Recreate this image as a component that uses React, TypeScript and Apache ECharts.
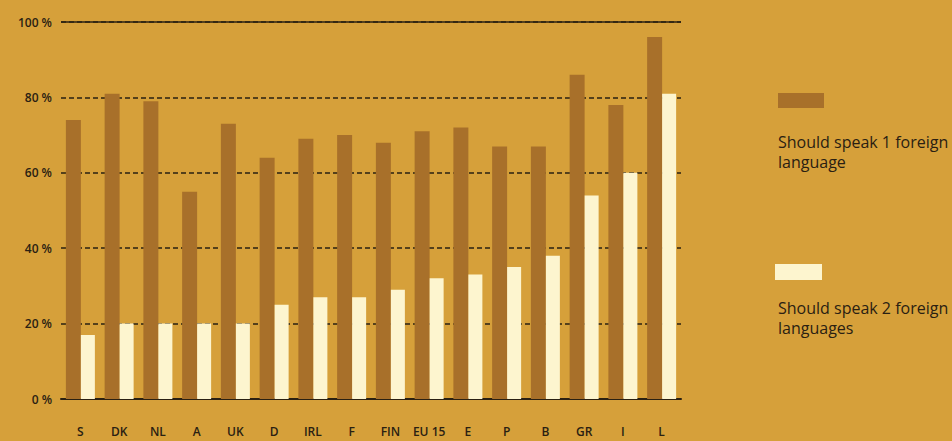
import React, { useEffect, useRef } from "react";
import * as echarts from "echarts";

const categories = ["S", "DK", "NL", "A", "UK", "D", "IRL", "F", "FIN", "EU 15", "E", "P", "B", "GR", "I", "L"];
const oneForeign = [74, 81, 79, 55, 73, 64, 69, 70, 68, 71, 72, 67, 67, 86, 78, 96];
const twoForeign = [17, 20, 20, 20, 20, 25, 27, 27, 29, 32, 33, 35, 38, 54, 60, 81];
const seriesNames = ["Should speak 1 foreign\nlanguage", "Should speak 2 foreign\nlanguages"];
const yTicks = [0, 20, 40, 60, 80, 100];

const BG = "#d6a03a";
const DARK = "#a8702a";
const LIGHT = "#fdf5cf";
const INK = "#2a2012";
const FONT = "'Open Sans', 'Noto Sans', sans-serif";

export default function App() {
  const ref = useRef<HTMLDivElement>(null);
  useEffect(() => {
    if (!ref.current) return;
    const chart = echarts.init(ref.current, undefined, { renderer: "svg" });
    chart.setOption({
      animation: false,
      backgroundColor: BG,
      grid: { left: 61, right: 271, top: 22, bottom: 42, containLabel: false },
      xAxis: {
        type: "category",
        data: categories,
        axisLine: { show: true, lineStyle: { color: INK, width: 2 } },
        axisTick: { show: false },
        axisLabel: { interval: 0, color: INK, fontSize: 12, fontFamily: FONT, fontWeight: 600, margin: 26 },
      },
      yAxis: {
        type: "value",
        min: 0,
        max: 100,
        interval: 20,
        axisLine: { show: false },
        axisTick: { show: false },
        axisLabel: {
          color: INK,
          fontSize: 12,
          fontFamily: FONT,
          fontWeight: 600,
          margin: 9,
          formatter: (v: number) => (yTicks.includes(v) ? `${v} %` : ""),
        },
        splitLine: { show: true, lineStyle: { color: INK, width: 1.5, type: [5, 3] } },
      },
      series: [
        {
          name: seriesNames[0],
          type: "bar",
          data: oneForeign,
          barWidth: 15,
          barGap: "0%",
          itemStyle: { color: DARK },
          markLine: {
            silent: true,
            symbol: "none",
            label: { show: false },
            lineStyle: { color: INK, width: 1.5, type: "solid" },
            data: [{ yAxis: 100 }],
          },
        },
        {
          name: seriesNames[1],
          type: "bar",
          data: twoForeign,
          barWidth: 14,
          barGap: "0%",
          itemStyle: { color: LIGHT },
        },
      ],
      graphic: [
        { type: "rect", left: 778, top: 93, shape: { width: 46, height: 15 }, style: { fill: DARK } },
        {
          type: "text",
          left: 778,
          top: 132,
          style: { text: seriesNames[0], fill: INK, font: `500 16px ${FONT}`, lineHeight: 20 },
        },
        { type: "rect", left: 775, top: 264, shape: { width: 47, height: 16 }, style: { fill: LIGHT } },
        {
          type: "text",
          left: 778,
          top: 298,
          style: { text: seriesNames[1], fill: INK, font: `500 16px ${FONT}`, lineHeight: 20 },
        },
      ],
    });
    return () => chart.dispose();
  }, []);
  return <div ref={ref} style={{ position: "fixed", left: 0, top: 0, width: 952, height: 441 }} />;
}
